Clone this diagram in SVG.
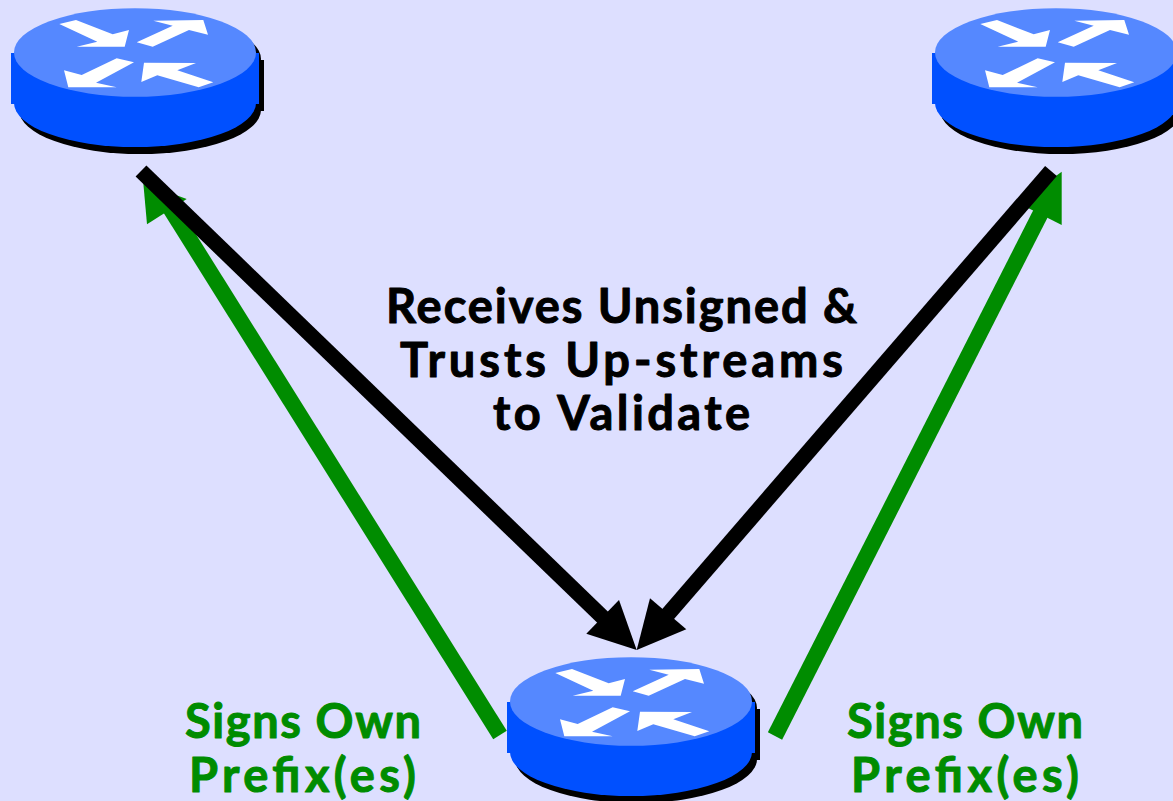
<svg xmlns="http://www.w3.org/2000/svg" width="1173" height="801" viewBox="0 0 1173 801">
<style>
.top{fill:#5588ff}.side{fill:#0050ff}.sh{fill:#000}.w{fill:#fff}
.bk{stroke:#000;stroke-width:15.5;fill:none}.gn{stroke:#008c00;stroke-width:16;fill:none}
.t{font-family:"Lato","Open Sans",sans-serif;font-weight:700;font-size:47px;stroke-width:1;stroke-linejoin:round}
.tb{fill:#000;stroke:#000}.tg{fill:#008c00;stroke:#008c00}
</style>
<defs>
<g id="router">
<rect class="sh" x="16" y="60" width="248" height="51"/>
<ellipse class="sh" cx="140" cy="110" rx="121" ry="44"/>
<ellipse class="sh" cx="140" cy="59" rx="121" ry="44"/>
<ellipse class="side" cx="135" cy="103" rx="121" ry="44"/>
<rect class="side" x="11" y="53" width="248" height="51"/>
<ellipse class="top" cx="135" cy="52.5" rx="121" ry="44.3"/>
<polygon class="w" points="59.3,24 76,20 112.7,34.3 129,30 124.7,46.7 76.7,46.7 97.3,41.7"/>
<polygon class="w" points="153.3,20.7 203.3,20 208,34.7 189,30 152.7,46.7 136.7,42.3 172.7,25.7"/>
<polygon class="w" points="116.7,58.3 134,62.3 96,82.7 116.7,87.3 68.3,87.3 64,70.3 81.7,75"/>
<polygon class="w" points="141.3,82 144,62.7 196,63 177.3,70.3 213.3,82.3 198.7,87.3 157.3,75.3"/>
</g>
</defs>
<rect width="1173" height="801" fill="#dddfff"/>
<g id="connectors">
<line class="gn" x1="500" y1="735" x2="160" y2="192"/>
<polygon fill="#008c00" points="143.3,183 186.7,199 147,224.3"/>
<line class="gn" x1="775" y1="736" x2="1050" y2="195"/>
<polygon fill="#008c00" points="1061.7,171.7 1061.7,225 1018.7,203.2"/>
<line class="bk" x1="141" y1="171" x2="620" y2="634"/>
<polygon fill="#000" points="636.7,650 586.3,633.7 619,600"/>
<line class="bk" x1="1051" y1="171" x2="650" y2="635"/>
<polygon fill="#000" points="636.7,650 650,598.3 686.3,629.3"/>
</g>
<g id="router-left"><use href="#router"/></g>
<g id="router-right"><use href="#router" x="921"/></g>
<g id="router-bottom"><use href="#router" x="496" y="649"/></g>
<g id="label-center">
<text class="t tb" x="386" y="323" textLength="471">Receives Unsigned &amp;</text>
<text class="t tb" x="400" y="377" textLength="443">Trusts Up-streams</text>
<text class="t tb" x="493" y="430" textLength="257">to Validate</text>
</g>
<g id="label-left">
<text class="t tg" x="185" y="738" textLength="236">Signs Own</text>
<text class="t tg" x="189" y="792" textLength="227">Prefix(es)</text>
</g>
<g id="label-right">
<text class="t tg" x="847" y="738" textLength="236">Signs Own</text>
<text class="t tg" x="851" y="792" textLength="228">Prefix(es)</text>
</g>
</svg>
